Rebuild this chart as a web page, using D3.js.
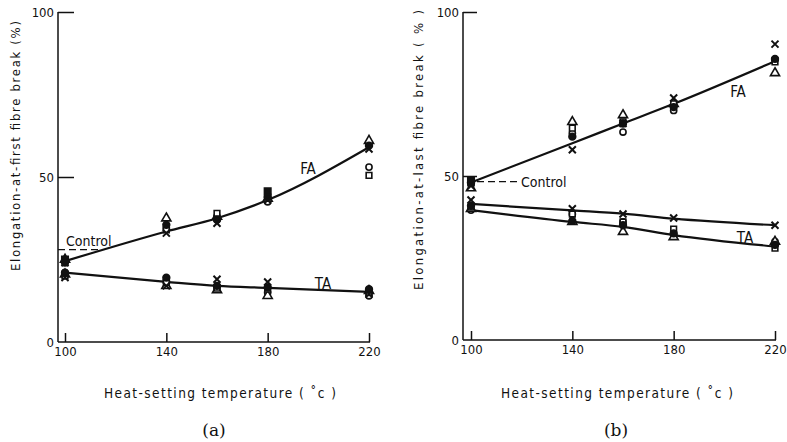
<!DOCTYPE html>
<html>
<head>
<meta charset="utf-8">
<script src="https://cdn.jsdelivr.net/npm/d3@7"></script>
<style>
  body { margin: 0; background: #fff; }
  svg { display: block; }
  .lbl { font-family: "DejaVu Sans Condensed", "DejaVu Sans", sans-serif; fill: #111; }
</style>
</head>
<body>
<div id="chart"></div>
<script>
// temperatures (x)
var temps = [100, 140, 160, 180, 220];
var xTicks = [100, 140, 180, 220];
var yTicks = [0, 50, 100];

// panel (a) elongation-at-first fibre break, FA
var aFaOpenCircle   = [24, 34.5, 38, 42.5, 53];
var aFaFilledCircle = [24.5, 35.5, 37, 44, 59.5];
var aFaTriangle     = [25, 37.5, 38, 43.5, 61];
var aFaSquare       = [24.5, 34, 39, 44, 50.5];
var aFaCross        = [24, 33, 36, 43, 58.5];
var aFaFilledSquare = [25, null, null, 45.7, null];
var aFaCurve        = [24.5, 33.5, 37.5, 43, 59];
// panel (a) TA
var aTaOpenCircle   = [21, 18.5, 16.5, 15, 14];
var aTaFilledCircle = [21, 19.5, 17, 16.5, 16];
var aTaTriangle     = [20.5, 17, 15.7, 14, 15.5];
var aTaSquare       = [20, 18, 16.3, 16, 15];
var aTaCross        = [19.5, 17, 19, 18.2, 14.5];
var aTaCurve        = [21, 18.2, 17, 16.4, 15.2];
var aControl = 28;

// panel (b) elongation-at-last fibre break, FA
var bFaOpenCircle   = [47.5, 63, 63.4, 70, 85.5];
var bFaFilledCircle = [48, 62, 66, 71, 85.7];
var bFaTriangle     = [46.3, 66.5, 68.6, 72, 81.4];
var bFaSquare       = [48, 64.6, 66.5, 72, 84.8];
var bFaCross        = [47, 58, 66, 73.8, 90.2];
var bFaFilledSquare = [48.8, null, null, null, null];
var bFaCurve        = [48, 60, 66, 72, 85];
// panel (b) TA
var bTaOpenCircle   = [39.6, 38.4, 36, 32, 30];
var bTaFilledCircle = [40.9, 36.3, 35, 32.5, 29];
var bTaTriangle     = [40, 36, 33, 31.4, 30];
var bTaSquare       = [40.5, 38.4, 36, 33.8, 28];
var bTaCross        = [42.7, 40, 38.4, 37.2, 35];
var bTaUpperCurve   = [41.5, 39.5, 38.5, 37, 35];
var bTaLowerCurve   = [39.6, 36, 34.5, 32, 28.5];
var bControl = 48.3;

var svg = d3.select("#chart").append("svg")
  .attr("width", 787)
  .attr("height", 442);

var symTimes = d3.symbolTimes || d3.symbolX || d3.symbolCross;
var markerStyles = {
  openCircle:   { type: d3.symbolCircle, size: 30, fill: "#fff" },
  filledCircle: { type: d3.symbolCircle, size: 36, fill: "#111" },
  triangle:     { type: d3.symbolTriangle, size: 36, fill: "#fff" },
  square:       { type: d3.symbolSquare, size: 32, fill: "#fff" },
  filledSquare: { type: d3.symbolSquare, size: 42, fill: "#111" },
  cross:        { type: symTimes, size: 34, fill: "none" }
};

function drawPanel(cfg) {
  var x = d3.scaleLinear().domain([100, 220]).range(cfg.xRange);
  var y = d3.scaleLinear().domain([0, 100]).range(cfg.yRange);
  var g = svg.append("g");

  // axes
  var xAxis = d3.axisBottom(x).tickValues(xTicks).tickSize(-cfg.tickX).tickPadding(5).tickSizeOuter(0);
  var gx = g.append("g").attr("transform", "translate(0," + y(0) + ")").call(xAxis);
  gx.select(".domain").attr("d", "M" + cfg.axisX + ",0H" + (x(220) + 1));
  var yAxis = d3.axisLeft(y).tickValues(yTicks).tickSize(-cfg.tickY).tickPadding(4).tickSizeOuter(0);
  var gy = g.append("g").attr("transform", "translate(" + cfg.axisX + ",0)").call(yAxis);
  gy.select(".domain").attr("d", "M0," + y(0) + "V" + y(100));
  gy.selectAll(".tick").filter(function(d) { return d === 0; }).select("line").remove();
  [gx, gy].forEach(function(a) {
    a.selectAll("path, line").attr("stroke", "#111").attr("stroke-width", 1.5);
    a.selectAll("text").attr("class", "lbl").attr("font-size", 13).attr("fill", "#111");
  });

  // control dashed line + label
  g.append("line")
    .attr("x1", cfg.ctrlX[0]).attr("x2", cfg.ctrlX[1])
    .attr("y1", y(cfg.control)).attr("y2", y(cfg.control))
    .attr("stroke", "#111").attr("stroke-width", 1.4).attr("stroke-dasharray", "7,4");
  g.append("text").attr("class", "lbl")
    .attr("x", cfg.ctrlText[0]).attr("y", cfg.ctrlText[1])
    .attr("font-size", 14).text("Control");

  // fitted curves
  var line = d3.line()
    .x(function(d, i) { return x(temps[i]); })
    .y(function(d) { return y(d); })
    .curve(d3.curveMonotoneX);
  cfg.curves.forEach(function(c) {
    g.append("path").attr("d", line(c))
      .attr("fill", "none").attr("stroke", "#111").attr("stroke-width", 2.2);
  });

  // markers
  cfg.markers.forEach(function(m) {
    var st = markerStyles[m.kind];
    var sym = d3.symbol().type(st.type).size(st.size);
    var pts = m.values.map(function(v, i) { return { t: temps[i], v: v }; })
      .filter(function(d) { return d.v !== null; });
    g.selectAll(null).data(pts).enter().append("path")
      .attr("d", sym)
      .attr("transform", function(d) { return "translate(" + x(d.t) + "," + y(d.v) + ")"; })
      .attr("fill", st.fill)
      .attr("stroke", "#111")
      .attr("stroke-width", m.kind === "cross" ? 2 : 1.6);
  });

  // curve labels
  cfg.labels.forEach(function(l) {
    g.append("text").attr("class", "lbl")
      .attr("x", l[1]).attr("y", l[2])
      .attr("font-size", 15).attr("text-anchor", "middle")
      .text(l[0]);
  });

  // axis titles
  g.append("text").attr("class", "lbl")
    .attr("transform", "translate(" + cfg.yTitle[0] + "," + cfg.yTitle[1] + ") rotate(-90)")
    .attr("text-anchor", "middle").attr("font-size", 13)
    .attr("textLength", cfg.yTitle[2]).attr("lengthAdjust", "spacing")
    .text(cfg.yTitleText);
  g.append("text").attr("class", "lbl")
    .attr("x", cfg.xTitle[0]).attr("y", 398)
    .attr("text-anchor", "middle").attr("font-size", 13.5)
    .attr("textLength", cfg.xTitle[1]).attr("lengthAdjust", "spacing")
    .text(cfg.xTitleText);
  g.append("text")
    .attr("x", cfg.caption[0]).attr("y", 436)
    .attr("text-anchor", "middle")
    .attr("font-family", "'DejaVu Serif', 'Liberation Serif', serif")
    .attr("font-size", 17).attr("fill", "#111")
    .text(cfg.caption[1]);
}

drawPanel({
  xRange: [65, 369], yRange: [342, 12], axisX: 58, tickX: 9, tickY: 16,
  control: aControl, ctrlX: [58, 100], ctrlText: [66, 246],
  curves: [aFaCurve, aTaCurve],
  markers: [
    { kind: "openCircle", values: aFaOpenCircle },
    { kind: "triangle", values: aFaTriangle },
    { kind: "square", values: aFaSquare },
    { kind: "filledCircle", values: aFaFilledCircle },
    { kind: "filledSquare", values: aFaFilledSquare },
    { kind: "cross", values: aFaCross },
    { kind: "openCircle", values: aTaOpenCircle },
    { kind: "triangle", values: aTaTriangle },
    { kind: "square", values: aTaSquare },
    { kind: "filledCircle", values: aTaFilledCircle },
    { kind: "cross", values: aTaCross }
  ],
  labels: [["FA", 308, 174], ["TA", 323, 289]],
  yTitle: [20, 146, 250], yTitleText: "Elongation-at-first fibre break (%)",
  xTitle: [220, 232], xTitleText: "Heat-setting temperature  ( \u02DAc )",
  caption: [214, "(a)"]
});

drawPanel({
  xRange: [471, 775], yRange: [340, 12], axisX: 463, tickX: 9, tickY: 14,
  control: bControl, ctrlX: [477, 519], ctrlText: [521, 187],
  curves: [bFaCurve, bTaUpperCurve, bTaLowerCurve],
  markers: [
    { kind: "openCircle", values: bFaOpenCircle },
    { kind: "triangle", values: bFaTriangle },
    { kind: "square", values: bFaSquare },
    { kind: "filledCircle", values: bFaFilledCircle },
    { kind: "filledSquare", values: bFaFilledSquare },
    { kind: "cross", values: bFaCross },
    { kind: "openCircle", values: bTaOpenCircle },
    { kind: "triangle", values: bTaTriangle },
    { kind: "square", values: bTaSquare },
    { kind: "filledCircle", values: bTaFilledCircle },
    { kind: "cross", values: bTaCross }
  ],
  labels: [["FA", 738, 97], ["TA", 745, 243]],
  yTitle: [423, 150, 280], yTitleText: "Elongation-at-last fibre break ( % )",
  xTitle: [617, 232], xTitleText: "Heat-setting temperature  ( \u02DAc )",
  caption: [616, "(b)"]
});
</script>
</body>
</html>
